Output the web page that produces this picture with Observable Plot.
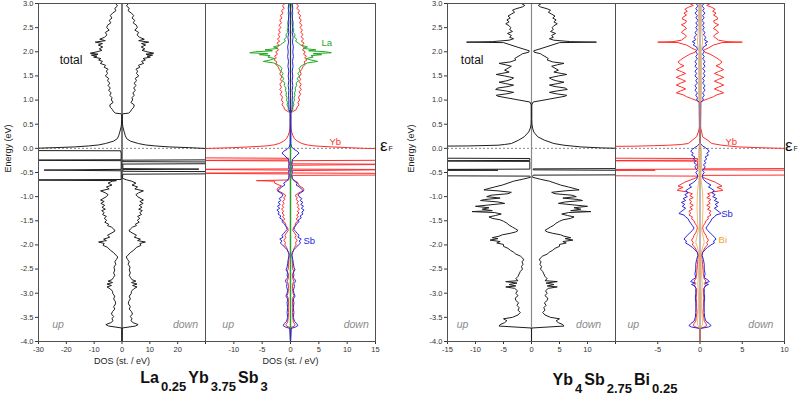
<!DOCTYPE html>
<html><head><meta charset="utf-8">
<script src="https://cdn.jsdelivr.net/npm/d3@7"></script>
<script src="https://cdn.jsdelivr.net/npm/@observablehq/plot@0.6"></script>
<style>
body{margin:0;background:#fff;}
#wrap{position:relative;width:800px;height:400px;overflow:hidden;font-family:"Liberation Sans",Arial,sans-serif;}
#wrap svg{position:absolute;left:0;top:0;}
.ttl{position:absolute;font-weight:bold;font-size:16px;line-height:16px;text-align:center;color:#111;white-space:nowrap;}
.ttl .s{font-size:13px;line-height:13px;vertical-align:-8px;margin:0 2px 0 2px;}
.ef{position:absolute;font-size:17px;line-height:18px;color:#111;white-space:nowrap;}
.ef .f{font-size:7px;margin-left:1px;}
</style></head>
<body><div id="wrap">
<div class="ttl" style="left:55px;width:300px;top:370px">La<span class="s">0.25</span>Yb<span class="s">3.75</span>Sb<span class="s">3</span></div>
<div class="ttl" style="left:466px;width:300px;top:372px">Yb<span class="s">4</span>Sb<span class="s">2.75</span>Bi<span class="s">0.25</span></div>
<div class="ef" style="left:380px;top:137px">ε<span class="f">F</span></div>
<div class="ef" style="left:785px;top:137px">ε<span class="f">F</span></div>
</div>
<script>
// ---------- axis ticks ----------
const yTicks = [3.0, 2.5, 2.0, 1.5, 1.0, 0.5, 0.0, -0.5, -1.0, -1.5, -2.0, -2.5, -3.0, -3.5, -4.0];
const xTicksP1 = [-30, -20, -10, 0, 10, 20, 30];
const xTicksP2 = [-15, -10, -5, 0, 5, 10, 15];
const xTicksP3 = [-15, -10, -5, 0, 5, 10, 15];
const xTicksP4 = [-10, -5, 0, 5, 10];

// ---------- La0.25Yb3.75Sb3 : total DOS ([energy, DOS]) ----------
const totLaCond = [[3.00,2.3],[2.95,1.6],[2.90,2.6],[2.85,2.2],[2.80,3.4],[2.75,4.2],[2.70,3.6],[2.65,4.6],[2.60,4.0],[2.55,5.2],[2.50,5.5],[2.45,4.6],[2.40,6.0],[2.35,5.4],[2.30,6.3],[2.26,8.0],[2.23,6.0],[2.20,9.6],[2.17,7.0],[2.14,8.5],[2.10,6.9],[2.06,8.2],[2.03,7.2],[2.00,9.0],[1.97,11.4],[1.95,8.6],[1.93,11.0],[1.91,9.0],[1.89,10.2],[1.86,7.6],[1.83,8.4],[1.80,7.0],[1.76,7.8],[1.72,5.9],[1.68,6.4],[1.64,5.0],[1.60,5.6],[1.55,5.2],[1.50,6.0],[1.45,4.8],[1.40,5.2],[1.35,4.4],[1.30,5.0],[1.25,4.2],[1.20,4.8],[1.15,3.9],[1.10,4.4],[1.05,3.6],[1.00,3.8],[0.95,3.2],[0.90,4.4],[0.85,4.2],[0.80,3.4],[0.76,3.0],[0.73,2.4],[0.715,0.3]];
const totLaUpWin = [[0.70,0.1],[0.60,0.1],[0.50,0.2],[0.45,0.3],[0.38,0.6],[0.32,0.9],[0.26,1.2],[0.20,1.7],[0.15,3.0],[0.10,5.9],[0.07,8.5],[0.05,12],[0.03,17],[0.015,24],[0.0,32],[-0.02,45],[-0.045,45],[-0.05,0.5],[-0.10,0.3],[-0.20,0.3],[-0.235,0.3],[-0.245,45],[-0.255,0.3],[-0.30,0.3],[-0.38,0.3],[-0.435,0.3],[-0.45,28],[-0.465,0.3],[-0.55,0.3],[-0.60,0.3],[-0.645,0.3],[-0.655,45],[-0.668,2.0]];
const totLaDownWin = [[0.70,0.1],[0.60,0.1],[0.50,0.2],[0.45,0.3],[0.38,0.6],[0.32,0.9],[0.26,1.2],[0.20,1.7],[0.15,3.0],[0.10,5.9],[0.07,8.5],[0.05,12],[0.03,17],[0.015,24],[0.0,29],[-0.01,45],[-0.235,45],[-0.245,0.3],[-0.275,0.3],[-0.285,45],[-0.315,45],[-0.325,0.3],[-0.42,0.3],[-0.43,27.6],[-0.44,0.3],[-0.475,0.3],[-0.485,45],[-0.525,45],[-0.535,0.3],[-0.60,0.2],[-0.62,0.2],[-0.65,1.5]];
const totLaVal = [[-0.68,3.5],[-0.72,5.0],[-0.76,3.6],[-0.80,5.6],[-0.84,4.6],[-0.88,7.7],[-0.92,6.0],[-0.96,5.0],[-1.00,5.6],[-1.04,6.8],[-1.07,7.7],[-1.10,6.4],[-1.14,7.6],[-1.18,6.2],[-1.22,7.2],[-1.26,6.0],[-1.29,7.3],[-1.33,6.4],[-1.37,7.0],[-1.41,5.6],[-1.45,6.4],[-1.49,5.5],[-1.53,6.2],[-1.57,4.8],[-1.60,5.2],[-1.63,3.8],[-1.67,3.0],[-1.71,2.5],[-1.75,3.6],[-1.80,5.2],[-1.84,4.4],[-1.88,6.6],[-1.91,5.6],[-1.94,8.4],[-1.97,6.4],[-2.01,6.8],[-2.05,5.2],[-2.11,4.2],[-2.16,3.0],[-2.21,2.2],[-2.25,1.5],[-2.30,2.0],[-2.35,2.6],[-2.40,2.2],[-2.46,2.9],[-2.52,2.6],[-2.58,3.0],[-2.63,2.6],[-2.67,3.0],[-2.72,3.6],[-2.75,5.0],[-2.78,3.4],[-2.81,5.4],[-2.84,3.8],[-2.87,5.4],[-2.91,4.2],[-2.96,3.4],[-3.01,3.3],[-3.06,2.6],[-3.12,3.0],[-3.17,2.4],[-3.22,2.3],[-3.28,3.0],[-3.33,2.6],[-3.38,3.4],[-3.43,3.8],[-3.48,3.0],[-3.53,3.6],[-3.57,3.2],[-3.61,4.0],[-3.65,5.8],[-3.68,4.8],[-3.72,0.1],[-3.75,0],[-4.0,0]];

// ---------- La0.25Yb3.75Sb3 : partial DOS ----------
const ybLaCond = [[3.00,1.0],[2.95,1.4],[2.90,1.1],[2.85,1.6],[2.80,1.3],[2.75,1.8],[2.70,1.5],[2.66,1.9],[2.60,1.6],[2.55,2.0],[2.50,1.7],[2.45,2.1],[2.40,1.8],[2.36,2.2],[2.31,1.9],[2.26,2.3],[2.22,1.9],[2.18,2.4],[2.13,2.0],[2.08,2.5],[2.04,2.1],[2.00,2.6],[1.95,2.3],[1.91,2.8],[1.87,2.5],[1.83,2.9],[1.79,2.4],[1.74,2.6],[1.69,2.2],[1.64,2.0],[1.59,1.7],[1.54,1.9],[1.48,1.5],[1.43,1.8],[1.38,1.5],[1.33,1.9],[1.27,1.6],[1.22,1.9],[1.17,1.5],[1.12,1.8],[1.06,1.4],[1.00,1.6],[0.95,1.3],[0.90,1.5],[0.86,1.2],[0.80,1.0],[0.76,0.4],[0.74,0.05]];
const ybLaUpWin = [[0.70,0.05],[0.50,0.05],[0.40,0.1],[0.34,0.2],[0.27,0.4],[0.20,0.7],[0.15,1.2],[0.10,2.0],[0.07,3.0],[0.05,4.3],[0.03,7.3],[0.015,10],[0.0,14],[-0.01,20],[-0.195,20],[-0.205,0.3],[-0.24,0.3],[-0.25,20],[-0.26,0.3],[-0.425,0.3],[-0.435,20],[-0.45,0.3],[-0.505,0.3],[-0.515,20],[-0.53,0.3],[-0.60,0.3],[-0.655,0.3],[-0.668,6.0],[-0.68,2.8],[-0.72,2.8],[-0.75,2.2]];
const ybLaDownWin = [[0.70,0.05],[0.50,0.05],[0.40,0.1],[0.34,0.2],[0.27,0.4],[0.20,0.7],[0.15,1.2],[0.10,2.0],[0.07,3.0],[0.05,4.3],[0.03,7.3],[0.015,10],[0.0,13],[-0.012,20],[-0.245,20],[-0.255,0.3],[-0.32,0.3],[-0.33,20],[-0.35,0.3],[-0.43,0.3],[-0.44,20],[-0.46,0.3],[-0.51,0.3],[-0.52,20],[-0.55,20],[-0.56,0.3],[-0.62,0.3],[-0.66,0.6],[-0.70,1.2],[-0.74,1.4]];
const ybLaVal = [[-0.78,1.6],[-0.82,2.2],[-0.86,2.4],[-0.90,1.8],[-0.94,1.2],[-0.98,0.8],[-1.02,1.2],[-1.06,1.0],[-1.10,1.4],[-1.14,1.1],[-1.18,1.5],[-1.22,1.2],[-1.26,1.6],[-1.30,1.2],[-1.34,1.5],[-1.38,1.1],[-1.42,1.4],[-1.46,1.0],[-1.50,1.3],[-1.55,0.9],[-1.60,0.8],[-1.65,0.5],[-1.70,0.4],[-1.75,0.7],[-1.80,1.0],[-1.85,0.8],[-1.90,1.2],[-1.95,0.9],[-2.00,1.0],[-2.05,0.7],[-2.12,0.5],[-2.20,0.25],[-2.30,0.3],[-2.40,0.35],[-2.50,0.4],[-2.55,0.6],[-2.60,0.35],[-2.70,0.4],[-2.75,0.6],[-2.80,0.4],[-2.90,0.35],[-3.00,0.45],[-3.05,0.6],[-3.10,0.4],[-3.20,0.35],[-3.30,0.4],[-3.40,0.35],[-3.50,0.4],[-3.60,0.5],[-3.65,0.8],[-3.68,0.7],[-3.71,0.1],[-4.0,0]];
const sbLa = [[3.0,0.3],[2.9,0.4],[2.8,0.25],[2.7,0.35],[2.6,0.3],[2.5,0.4],[2.4,0.3],[2.3,0.45],[2.2,0.35],[2.1,0.5],[2.0,0.4],[1.9,0.5],[1.8,0.35],[1.7,0.45],[1.6,0.3],[1.5,0.4],[1.4,0.3],[1.3,0.4],[1.2,0.3],[1.1,0.35],[1.0,0.3],[0.9,0.3],[0.8,0.25],[0.74,0.05],[0.1,0.05],[0.03,0.2],[-0.02,0.6],[-0.06,1.2],[-0.10,1.5],[-0.14,1.1],[-0.18,0.8],[-0.22,0.4],[-0.26,0.3],[-0.32,0.2],[-0.38,0.3],[-0.44,0.2],[-0.50,0.3],[-0.56,0.2],[-0.62,0.3],[-0.68,0.7],[-0.72,1.2],[-0.76,1.0],[-0.80,1.6],[-0.84,1.9],[-0.88,2.3],[-0.92,1.8],[-0.96,1.3],[-1.00,1.5],[-1.04,2.0],[-1.08,1.7],[-1.12,2.2],[-1.16,1.8],[-1.20,2.3],[-1.24,1.9],[-1.28,2.4],[-1.32,2.0],[-1.36,2.2],[-1.40,1.7],[-1.44,1.9],[-1.48,1.4],[-1.52,1.5],[-1.56,1.1],[-1.60,0.9],[-1.64,0.7],[-1.68,0.6],[-1.72,0.9],[-1.76,1.2],[-1.80,1.5],[-1.84,1.3],[-1.88,1.9],[-1.92,1.5],[-1.96,1.8],[-2.00,1.4],[-2.05,1.0],[-2.10,0.6],[-2.16,0.3],[-2.22,0.25],[-2.30,0.4],[-2.38,0.5],[-2.46,0.6],[-2.52,0.8],[-2.56,0.5],[-2.62,0.6],[-2.68,0.5],[-2.72,0.8],[-2.76,0.9],[-2.80,0.6],[-2.86,0.7],[-2.94,0.5],[-3.00,0.6],[-3.06,0.8],[-3.12,0.5],[-3.20,0.6],[-3.30,0.5],[-3.40,0.6],[-3.50,0.5],[-3.58,0.7],[-3.63,1.1],[-3.67,1.3],[-3.70,0.9],[-3.73,0.1],[-4.0,0]];
const laLa = [[3.0,0.2],[2.9,0.3],[2.8,0.4],[2.7,0.3],[2.6,0.5],[2.5,0.4],[2.45,0.6],[2.4,0.5],[2.35,0.8],[2.3,0.7],[2.26,1.1],[2.22,0.9],[2.18,1.4],[2.14,1.8],[2.10,3.0],[2.07,2.2],[2.04,4.5],[2.02,3.2],[2.00,6.2],[1.98,7.2],[1.96,4.0],[1.94,5.5],[1.92,3.6],[1.89,4.0],[1.86,2.8],[1.83,3.6],[1.80,4.8],[1.77,3.0],[1.74,2.4],[1.70,1.8],[1.65,1.5],[1.60,1.7],[1.55,1.3],[1.50,1.6],[1.45,1.2],[1.40,1.4],[1.35,1.0],[1.30,1.1],[1.25,0.8],[1.20,0.9],[1.15,0.7],[1.10,0.8],[1.05,0.6],[1.00,0.7],[0.95,0.5],[0.90,0.6],[0.85,0.4],[0.80,0.4],[0.75,0.1],[0.72,0.02],[-4.0,0.02]];

// ---------- Yb4Sb2.75Bi0.25 : total DOS ----------
const totBiCond = [[3.00,1.8],[2.96,1.2],[2.93,1.6],[2.89,2.8],[2.86,3.4],[2.82,3.0],[2.78,3.6],[2.74,4.2],[2.70,3.8],[2.66,4.4],[2.62,4.0],[2.58,4.6],[2.54,4.0],[2.50,3.7],[2.46,3.9],[2.42,3.4],[2.38,4.3],[2.34,3.6],[2.30,3.9],[2.27,3.2],[2.24,4.0],[2.21,7.0],[2.20,11.6],[2.19,5.0],[2.10,2.6],[2.02,0.4],[1.99,0.5],[1.96,1.6],[1.93,2.0],[1.89,2.6],[1.86,3.0],[1.83,2.8],[1.79,3.8],[1.76,5.8],[1.73,4.6],[1.70,3.6],[1.66,4.2],[1.62,4.8],[1.58,4.0],[1.55,5.4],[1.53,6.3],[1.50,4.8],[1.46,3.2],[1.43,3.6],[1.40,4.4],[1.37,5.8],[1.34,4.6],[1.31,3.2],[1.28,4.2],[1.25,6.0],[1.22,6.4],[1.19,4.6],[1.16,3.2],[1.13,4.4],[1.10,6.3],[1.08,6.0],[0.96,0.3]];
const totBiUpWin = [[0.90,0.05],[0.60,0.05],[0.50,0.08],[0.42,0.2],[0.34,0.5],[0.24,1.3],[0.17,2.3],[0.10,3.6],[0.08,4.8],[0.065,6.0],[0.05,11.4],[0.04,25],[-0.20,25],[-0.21,0.3],[-0.25,0.3],[-0.26,25],[-0.27,0.3],[-0.43,0.3],[-0.44,25],[-0.452,6.0],[-0.46,25],[-0.565,25],[-0.575,0.3]];
const totBiDownWin = [[0.90,0.05],[0.60,0.05],[0.50,0.08],[0.42,0.2],[0.34,0.4],[0.24,1.1],[0.17,2.3],[0.10,4.0],[0.065,5.8],[0.03,8.8],[0.01,12.3],[0.0,15.5],[-0.005,25],[-0.415,25],[-0.425,0.3],[-0.445,0.3],[-0.46,25],[-0.545,25],[-0.555,0.3],[-0.58,0.2]];
const totBiVal = [[-0.60,0.2],[-0.64,1.6],[-0.68,3.2],[-0.72,4.2],[-0.76,5.2],[-0.80,6.6],[-0.83,7.6],[-0.86,8.5],[-0.88,6.0],[-0.91,3.6],[-0.94,4.2],[-0.97,7.2],[-1.00,8.0],[-1.03,5.6],[-1.06,8.4],[-1.08,9.1],[-1.11,6.0],[-1.14,4.8],[-1.17,7.4],[-1.20,10.0],[-1.23,7.6],[-1.26,8.8],[-1.29,7.0],[-1.31,10.6],[-1.33,6.6],[-1.36,5.4],[-1.39,6.4],[-1.42,7.6],[-1.45,7.0],[-1.48,5.6],[-1.51,5.0],[-1.55,4.4],[-1.59,4.0],[-1.63,3.4],[-1.67,2.8],[-1.70,2.4],[-1.73,2.8],[-1.76,3.8],[-1.79,5.2],[-1.82,5.8],[-1.85,7.0],[-1.87,6.0],[-1.90,7.4],[-1.93,5.6],[-1.96,6.2],[-1.99,5.0],[-2.03,5.0],[-2.07,4.2],[-2.11,3.8],[-2.15,3.2],[-2.19,2.8],[-2.23,2.0],[-2.27,1.6],[-2.31,1.4],[-2.35,1.7],[-2.40,1.5],[-2.45,1.8],[-2.50,1.6],[-2.55,2.0],[-2.60,2.2],[-2.65,2.4],[-2.70,2.8],[-2.74,2.4],[-2.76,4.6],[-2.79,2.6],[-2.82,4.0],[-2.85,2.8],[-2.87,4.6],[-2.90,3.0],[-2.95,2.5],[-3.00,2.8],[-3.05,2.4],[-3.10,2.9],[-3.15,2.8],[-3.20,2.3],[-3.25,2.6],[-3.30,2.2],[-3.35,2.4],[-3.40,2.0],[-3.45,2.4],[-3.50,3.4],[-3.53,5.0],[-3.57,4.4],[-3.61,4.8],[-3.65,5.6],[-3.68,5.8],[-3.72,0.1],[-3.75,0],[-4.0,0]];

// ---------- Yb4Sb2.75Bi0.25 : partial DOS ----------
const ybBiCond = [[3.00,1.2],[2.96,0.8],[2.92,1.4],[2.88,1.8],[2.84,1.5],[2.80,1.9],[2.76,1.6],[2.72,2.0],[2.68,2.1],[2.64,1.6],[2.60,1.7],[2.56,2.2],[2.52,1.8],[2.48,1.6],[2.44,2.0],[2.40,2.2],[2.36,1.8],[2.32,1.6],[2.28,1.9],[2.24,2.2],[2.21,3.2],[2.20,5.0],[2.19,2.6],[2.14,1.6],[2.08,1.0],[2.03,0.4],[1.99,0.6],[1.95,1.2],[1.91,1.6],[1.87,2.0],[1.83,2.3],[1.79,2.6],[1.75,2.4],[1.71,1.9],[1.67,2.4],[1.63,2.8],[1.59,2.2],[1.55,1.7],[1.51,2.3],[1.47,2.8],[1.43,2.2],[1.39,1.7],[1.35,2.3],[1.31,2.8],[1.27,2.2],[1.23,1.7],[1.19,2.3],[1.15,2.8],[1.11,2.0],[1.07,1.6],[1.03,1.0],[0.99,0.4],[0.96,0.1]];
const ybBiUpWin = [[0.95,0.05],[0.60,0.02],[0.50,0.02],[0.40,0.1],[0.34,0.2],[0.24,0.4],[0.17,0.9],[0.10,1.4],[0.08,2.2],[0.065,3.7],[0.055,5.5],[0.045,7.6],[0.035,15],[-0.20,15],[-0.21,0.3],[-0.245,0.3],[-0.255,15],[-0.265,0.3],[-0.43,0.3],[-0.44,15],[-0.452,5.3],[-0.46,15],[-0.565,15],[-0.575,0.2]];
const ybBiDownWin = [[0.95,0.05],[0.60,0.02],[0.50,0.02],[0.40,0.1],[0.34,0.2],[0.24,0.3],[0.17,0.9],[0.10,1.4],[0.065,2.6],[0.03,4.5],[0.01,7.7],[0.0,9.8],[-0.01,15],[-0.415,15],[-0.425,0.3],[-0.445,0.3],[-0.455,15],[-0.55,15],[-0.56,0.3],[-0.575,0.2]];
const ybBiVal = [[-0.58,0.2],[-0.62,0.6],[-0.66,1.2],[-0.70,1.8],[-0.74,2.2],[-0.78,2.6],[-0.81,2.0],[-0.84,2.5],[-0.87,2.7],[-0.90,1.6],[-0.94,0.9],[-0.98,1.2],[-1.02,0.8],[-1.06,1.3],[-1.10,1.0],[-1.14,1.2],[-1.18,0.8],[-1.22,1.2],[-1.26,0.9],[-1.30,1.3],[-1.34,1.1],[-1.38,1.3],[-1.42,0.9],[-1.46,1.0],[-1.50,0.7],[-1.55,0.6],[-1.60,0.4],[-1.65,0.3],[-1.70,0.4],[-1.75,0.5],[-1.80,0.7],[-1.85,0.8],[-1.90,1.0],[-1.95,0.8],[-2.00,0.9],[-2.05,0.6],[-2.12,0.4],[-2.20,0.2],[-2.30,0.25],[-2.40,0.3],[-2.50,0.35],[-2.60,0.4],[-2.70,0.5],[-2.75,0.7],[-2.80,0.5],[-2.85,0.7],[-2.90,0.4],[-3.00,0.4],[-3.10,0.45],[-3.20,0.4],[-3.30,0.4],[-3.40,0.35],[-3.50,0.45],[-3.58,0.5],[-3.63,0.7],[-3.67,0.8],[-3.70,0.5],[-3.73,0.05],[-4.0,0]];
const sbBi = [[3.00,0.5],[2.95,0.2],[2.90,0.5],[2.85,0.3],[2.80,0.6],[2.75,0.3],[2.70,0.5],[2.65,0.2],[2.60,0.5],[2.55,0.3],[2.50,0.5],[2.45,0.3],[2.40,0.6],[2.35,0.4],[2.30,0.7],[2.25,0.5],[2.21,0.9],[2.18,0.6],[2.14,0.8],[2.10,0.4],[2.05,0.3],[2.00,0.5],[1.95,0.3],[1.90,0.5],[1.85,0.3],[1.80,0.6],[1.75,0.4],[1.70,0.6],[1.65,0.3],[1.60,0.6],[1.55,0.4],[1.50,0.6],[1.45,0.3],[1.40,0.5],[1.35,0.3],[1.30,0.6],[1.25,0.4],[1.20,0.6],[1.15,0.3],[1.10,0.5],[1.05,0.3],[1.00,0.4],[0.96,0.1],[0.10,0.05],[0.05,0.3],[0.02,0.6],[-0.02,0.9],[-0.06,1.1],[-0.10,0.8],[-0.14,1.0],[-0.18,0.6],[-0.22,0.8],[-0.26,0.5],[-0.30,0.7],[-0.34,0.4],[-0.38,0.6],[-0.42,0.5],[-0.46,0.3],[-0.50,0.5],[-0.55,0.3],[-0.60,0.3],[-0.64,0.4],[-0.68,0.6],[-0.72,0.9],[-0.76,1.3],[-0.80,1.0],[-0.84,1.4],[-0.88,1.7],[-0.92,1.4],[-0.96,1.8],[-1.00,1.5],[-1.04,2.0],[-1.08,1.7],[-1.12,2.2],[-1.16,1.8],[-1.20,2.1],[-1.24,1.7],[-1.28,2.0],[-1.32,2.3],[-1.35,2.5],[-1.38,1.9],[-1.42,1.7],[-1.46,1.4],[-1.50,1.3],[-1.55,1.1],[-1.60,0.9],[-1.65,0.7],[-1.70,0.9],[-1.75,1.2],[-1.80,1.5],[-1.84,1.7],[-1.88,1.9],[-1.92,1.6],[-1.96,1.7],[-2.00,1.3],[-2.05,0.9],[-2.10,0.6],[-2.16,0.3],[-2.22,0.25],[-2.30,0.4],[-2.40,0.5],[-2.50,0.5],[-2.60,0.6],[-2.68,0.5],[-2.72,0.9],[-2.76,1.1],[-2.79,0.6],[-2.82,1.0],[-2.85,0.6],[-2.90,0.5],[-3.00,0.5],[-3.10,0.55],[-3.20,0.5],[-3.30,0.5],[-3.40,0.5],[-3.50,0.55],[-3.58,0.7],[-3.63,1.1],[-3.67,1.3],[-3.70,1.0],[-3.73,0.05],[-4.0,0]];
const biBi = [[3.0,0.15],[2.5,0.2],[2.2,0.3],[2.0,0.15],[1.5,0.2],[1.0,0.15],[0.96,0.02],[0.1,0.02],[0.0,0.15],[-0.3,0.2],[-0.6,0.1],[-0.9,0.3],[-1.2,0.35],[-1.5,0.3],[-1.7,0.2],[-1.85,0.4],[-1.95,0.5],[-2.05,0.3],[-2.2,0.1],[-2.5,0.15],[-2.8,0.25],[-3.2,0.15],[-3.65,0.3],[-3.72,0.02],[-4.0,0]];

// ---------- colours ----------
const BLACK = "#1e1e1e", RED = "#ff2d2d", BLUE = "#2626e0", GREEN = "#22aa22", ORANGE = "#f5a030";

// ---------- helpers ----------
const joinSorted = (...parts) => parts.flat().slice().sort((a, b) => b[0] - a[0]);
const signed = (list, s) => list.map(([e, v]) => ({e, v: s * v}));
function spin(upList, downList, opts) {
  return [
    Plot.line(signed(upList, -1), {x: "v", y: "e", clip: true, strokeWidth: 1, ...opts}),
    Plot.line(signed(downList, 1), {x: "v", y: "e", clip: true, strokeWidth: 1, ...opts})
  ];
}
const font = "Liberation Sans, Arial, sans-serif";
function lbl(t, x, y, fill, size, extra = {}) {
  return Plot.text([t], {x, y, text: d => d, fill, fontSize: size, fontFamily: font, ...extra});
}
function upDown(xu, xd) {
  return [
    lbl("up", xu, -3.65, "#8a8a8a", 10.5, {fontStyle: "italic"}),
    lbl("down", xd, -3.65, "#8a8a8a", 10.5, {fontStyle: "italic"})
  ];
}

function panel({ml, mr, domain, ticks, hide, yAxis, yLabDx, dosLabel, zeroColor, curves, labels}) {
  return Plot.plot({
    width: 800, height: 400,
    marginTop: 3, marginBottom: 59, marginLeft: ml, marginRight: mr,
    style: {background: "transparent", fontFamily: font, fontSize: "7.5px", color: "#333", overflow: "visible"},
    x: {domain, ticks, tickFormat: d => d === hide ? "" : String(d), tickSize: 3, tickPadding: 2, label: null},
    y: {domain: [-4, 3], ticks: yTicks, tickFormat: d => d.toFixed(1), tickSize: 3, tickPadding: 2, label: null, axis: yAxis ? "left" : null},
    marks: [
      Plot.ruleX([0], {stroke: zeroColor, strokeWidth: 1.2}),
      Plot.ruleY([0], {stroke: "#8a8a8a", strokeDasharray: "2,2", strokeWidth: 1}),
      ...curves,
      Plot.frame({stroke: "#505050"}),
      ...labels,
      yAxis ? Plot.text(["Energy (eV)"], {text: d => d, frameAnchor: "left", rotate: -90, dx: yLabDx, fontSize: 9, fontFamily: font, fill: "#222"}) : null,
      dosLabel ? Plot.text(["DOS (st. / eV)"], {text: d => d, frameAnchor: "bottom", dy: 22, fontSize: 9, fontFamily: font, fill: "#222"}) : null
    ]
  });
}

const wrap = document.getElementById("wrap");

// Panel 1 : total DOS, La compound
wrap.appendChild(panel({
  ml: 38, mr: 595, domain: [-30, 30], ticks: xTicksP1, hide: 30, yAxis: true, yLabDx: -30, dosLabel: true, zeroColor: "#222",
  curves: spin(joinSorted(totLaCond, totLaUpWin, totLaVal), joinSorted(totLaCond, totLaDownWin, totLaVal), {stroke: BLACK}),
  labels: [lbl("total", -18.3, 1.83, "#111", 12), ...upDown(-23, 22.8)]
}));

// Panel 2 : partial DOS, La compound
wrap.appendChild(panel({
  ml: 205, mr: 425, domain: [-15, 15], ticks: xTicksP2, hide: -15, yAxis: false, dosLabel: true, zeroColor: "#333",
  curves: [
    ...spin(joinSorted(ybLaCond, ybLaUpWin, ybLaVal), joinSorted(ybLaCond, ybLaDownWin, ybLaVal), {stroke: RED}),
    ...spin(laLa, laLa, {stroke: GREEN}),
    ...spin(sbLa, sbLa, {stroke: BLUE})
  ],
  labels: [lbl("La", 6.4, 2.18, GREEN, 9.5), lbl("Yb", 7.9, 0.14, RED, 9.5), lbl("Sb", 3.3, -1.92, BLUE, 9.5), ...upDown(-11, 11.6)]
}));

// Panel 3 : total DOS, Bi compound
wrap.appendChild(panel({
  ml: 447, mr: 185, domain: [-15, 15], ticks: xTicksP3, hide: 15, yAxis: true, yLabDx: -36, dosLabel: false, zeroColor: "#8a8a8a",
  curves: spin(joinSorted(totBiCond, totBiUpWin, totBiVal), joinSorted(totBiCond, totBiDownWin, totBiVal), {stroke: BLACK}),
  labels: [lbl("total", -10.6, 1.83, "#111", 12), ...upDown(-12.3, 10.2)]
}));

// Panel 4 : partial DOS, Bi compound
wrap.appendChild(panel({
  ml: 615, mr: 16, domain: [-10, 10], ticks: xTicksP4, hide: -10, yAxis: false, dosLabel: false, zeroColor: "#8a8a8a",
  curves: [
    ...spin(joinSorted(ybBiCond, ybBiUpWin, ybBiVal), joinSorted(ybBiCond, ybBiDownWin, ybBiVal), {stroke: RED}),
    ...spin(sbBi, sbBi, {stroke: BLUE}),
    ...spin(biBi, biBi, {stroke: ORANGE, strokeOpacity: 0.75})
  ],
  labels: [lbl("Yb", 3.7, 0.14, RED, 9.5), lbl("Sb", 3.2, -1.36, BLUE, 9.5), lbl("Bi", 2.7, -1.89, ORANGE, 9.5), ...upDown(-7.9, 7.2)]
}));
</script>
</body></html>
